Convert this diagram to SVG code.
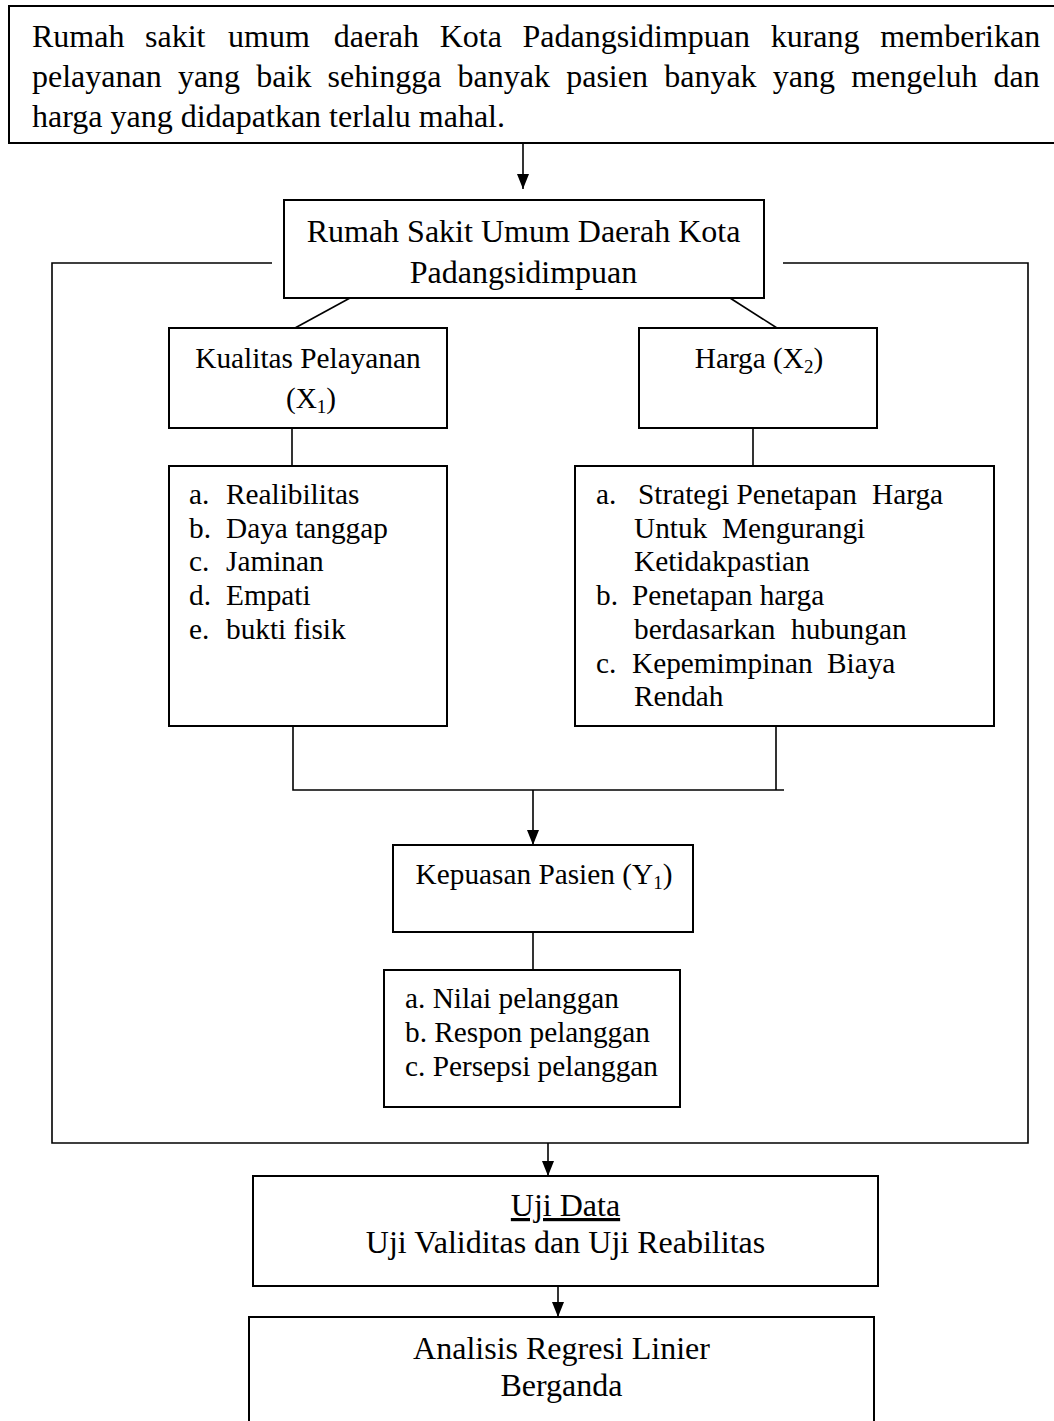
<svg xmlns="http://www.w3.org/2000/svg" width="1054" height="1421" viewBox="0 0 1054 1421">
<style>
.box{fill:#fff;stroke:#000;stroke-width:2}
.ln{fill:none;stroke:#000;stroke-width:1.6}
.arr{marker-end:url(#ah)}
text{font-family:"Liberation Serif","Times New Roman",serif;fill:#000}
.t32{font-size:32px}
.t29{font-size:29.3px}
.mid{text-anchor:middle}
.sub{font-size:19px}
</style>
<defs>
<marker id="ah" markerUnits="userSpaceOnUse" markerWidth="15" markerHeight="12" refX="15" refY="6" orient="auto" viewBox="0 0 15 12">
<path d="M0,0 L15,6 L0,12 z" fill="#000"/>
</marker>
</defs>
<rect width="1054" height="1421" fill="#fff"/>

<g id="connectors">
<line class="ln arr" x1="523" y1="143" x2="523" y2="189"/>
<path class="ln" d="M272,263 H52 V1143 H1028 V263 H783"/>
<line class="ln" x1="350" y1="298" x2="295" y2="328"/>
<line class="ln" x1="730" y1="298" x2="777" y2="328"/>
<line class="ln" x1="292" y1="428" x2="292" y2="466"/>
<line class="ln" x1="753" y1="428" x2="753" y2="466"/>
<path class="ln" d="M293,726 V790 H784 M776,726 V790"/>
<line class="ln arr" x1="533" y1="790" x2="533" y2="845"/>
<line class="ln" x1="533" y1="932" x2="533" y2="970"/>
<line class="ln arr" x1="548" y1="1143" x2="548" y2="1176"/>
<line class="ln arr" x1="558" y1="1286" x2="558" y2="1317"/>
</g>

<g id="problem">
<rect class="box" x="9" y="6" width="1070" height="137"/>
<text class="t32" y="47"><tspan x="32">Rumah</tspan><tspan x="145">sakit</tspan><tspan x="228">umum</tspan><tspan x="333.8">daerah</tspan><tspan x="439.7">Kota</tspan><tspan x="522.5">Padangsidimpuan</tspan><tspan x="770.7">kurang</tspan><tspan x="880.2">memberikan</tspan></text>
<text class="t32" y="87"><tspan x="32">pelayanan</tspan><tspan x="177.9">yang</tspan><tspan x="256.3">baik</tspan><tspan x="327.6">sehingga</tspan><tspan x="457.6">banyak</tspan><tspan x="566.2">pasien</tspan><tspan x="664.2">banyak</tspan><tspan x="772.8">yang</tspan><tspan x="851.2">mengeluh</tspan><tspan x="993.6">dan</tspan></text>
<text class="t32" x="32" y="127">harga yang didapatkan terlalu mahal.</text>
</g>

<g id="rsud">
<rect class="box" x="284" y="200" width="480" height="98"/>
<text class="t32 mid" x="523.5" y="242">Rumah Sakit Umum Daerah Kota</text>
<text class="t32 mid" x="523.5" y="283">Padangsidimpuan</text>
</g>

<g id="x1">
<rect class="box" x="169" y="328" width="278" height="100"/>
<text class="t29 mid" x="308" y="368">Kualitas Pelayanan</text>
<text class="t29 mid" x="311" y="408">(X<tspan class="sub" dy="5">1</tspan><tspan dy="-5">)</tspan></text>
</g>

<g id="x2">
<rect class="box" x="639" y="328" width="238" height="100"/>
<text class="t29 mid" x="759" y="368">Harga (X<tspan class="sub" dy="5">2</tspan><tspan dy="-5">)</tspan></text>
</g>

<g id="x1-indicators">
<rect class="box" x="169" y="466" width="278" height="260"/>
<text class="t29"><tspan x="189" y="504">a.</tspan><tspan x="226" y="504">Realibilitas</tspan></text>
<text class="t29"><tspan x="189" y="538">b.</tspan><tspan x="226" y="538">Daya tanggap</tspan></text>
<text class="t29"><tspan x="189" y="571">c.</tspan><tspan x="226" y="571">Jaminan</tspan></text>
<text class="t29"><tspan x="189" y="605">d.</tspan><tspan x="226" y="605">Empati</tspan></text>
<text class="t29"><tspan x="189" y="639">e.</tspan><tspan x="226" y="639">bukti fisik</tspan></text>
</g>

<g id="x2-indicators">
<rect class="box" x="575" y="466" width="419" height="260"/>
<text class="t29"><tspan x="596" y="504">a.</tspan><tspan x="638" y="504">Strategi Penetapan</tspan><tspan x="872" y="504">Harga</tspan></text>
<text class="t29"><tspan x="634" y="538">Untuk</tspan><tspan x="722" y="538">Mengurangi</tspan></text>
<text class="t29" x="634" y="571">Ketidakpastian</text>
<text class="t29"><tspan x="596" y="605">b.</tspan><tspan x="632" y="605">Penetapan harga</tspan></text>
<text class="t29"><tspan x="634" y="639">berdasarkan</tspan><tspan x="791" y="639">hubungan</tspan></text>
<text class="t29"><tspan x="596" y="673">c.</tspan><tspan x="632" y="673">Kepemimpinan</tspan><tspan x="827" y="673">Biaya</tspan></text>
<text class="t29" x="634" y="706">Rendah</text>
</g>

<g id="y1">
<rect class="box" x="393" y="845" width="300" height="87"/>
<text class="t29 mid" x="544" y="884">Kepuasan Pasien (Y<tspan class="sub" dy="5">1</tspan><tspan dy="-5">)</tspan></text>
</g>

<g id="y1-indicators">
<rect class="box" x="384" y="970" width="296" height="137"/>
<text class="t29" x="405" y="1008">a. Nilai pelanggan</text>
<text class="t29" x="405" y="1042">b. Respon pelanggan</text>
<text class="t29" x="405" y="1076">c. Persepsi pelanggan</text>
</g>

<g id="uji-data">
<rect class="box" x="253" y="1176" width="625" height="110"/>
<text class="t32 mid" x="565.5" y="1216" text-decoration="underline">Uji Data</text>
<text class="t32 mid" x="565.5" y="1253">Uji Validitas dan Uji Reabilitas</text>
</g>

<g id="regresi">
<rect class="box" x="249" y="1317" width="625" height="130"/>
<text class="t32 mid" x="561.5" y="1359">Analisis Regresi Linier</text>
<text class="t32 mid" x="561.5" y="1396">Berganda</text>
</g>
</svg>
